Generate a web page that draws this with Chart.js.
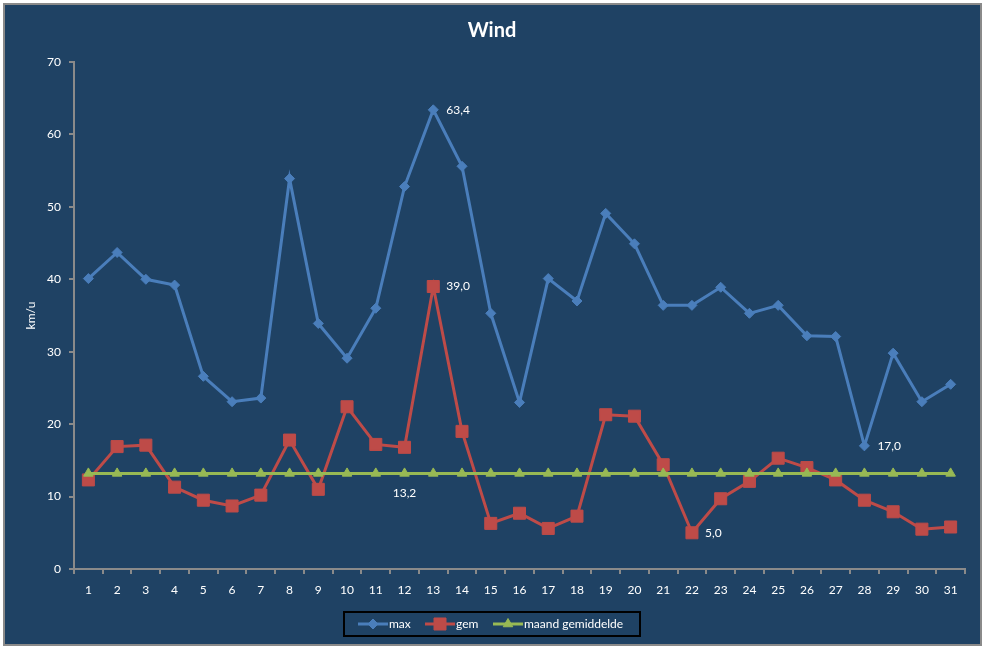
<!DOCTYPE html>
<html>
<head>
<meta charset="utf-8">
<script src="https://cdn.jsdelivr.net/npm/chart.js@4/dist/chart.umd.min.js"></script>
<style>
html,body{margin:0;padding:0;background:#ffffff;}
#wrap{position:absolute;left:0;top:0;width:987px;height:648px;}
</style>
</head>
<body>
<div id="wrap"><canvas id="c" width="987" height="648"></canvas></div>
<script>
const days = ['1','2','3','4','5','6','7','8','9','10','11','12','13','14','15','16','17','18','19','20','21','22','23','24','25','26','27','28','29','30','31'];
const maxValues = [40.1,43.7,40.0,39.2,26.6,23.1,23.6,53.9,33.9,29.1,36.0,52.8,63.4,55.6,35.3,23.0,40.1,37.0,49.1,44.9,36.4,36.4,38.9,35.3,36.4,32.2,32.1,17.0,29.8,23.1,25.5];
const gemValues = [12.3,16.9,17.1,11.3,9.5,8.7,10.2,17.8,11.0,22.4,17.2,16.8,39.0,19.0,6.3,7.7,5.6,7.3,21.3,21.1,14.4,5.0,9.7,12.1,15.3,14.0,12.3,9.5,7.9,5.5,5.8];
const maandValues = [13.2,13.2,13.2,13.2,13.2,13.2,13.2,13.2,13.2,13.2,13.2,13.2,13.2,13.2,13.2,13.2,13.2,13.2,13.2,13.2,13.2,13.2,13.2,13.2,13.2,13.2,13.2,13.2,13.2,13.2,13.2];
const seriesNames = ['max','gem','maand gemiddelde'];
const yTicks = [0,10,20,30,40,50,60,70];
// value labels: [dataset index, point index, placement]
const valueLabels = [[0,12,'right'],[1,12,'right'],[0,27,'right'],[1,21,'right'],[2,11,'below']];

const BG = '#1F4264';
const FONT = 'Lato, "Open Sans", sans-serif';

const decor = {
  id:'decor',
  beforeDraw(chart){
    const ctx = chart.ctx;
    ctx.save();
    ctx.fillStyle = '#ffffff';
    ctx.fillRect(0,0,chart.width,chart.height);
    ctx.fillStyle = BG;
    ctx.fillRect(4,4,977,641);
    ctx.strokeStyle = '#8a8a8a';
    ctx.lineWidth = 2;
    ctx.strokeRect(4,4,977,641);
    ctx.restore();
  },
  afterDatasetsDraw(chart){
    const ctx = chart.ctx;
    ctx.save();
    ctx.fillStyle = '#ffffff';
    ctx.font = '12px ' + FONT;
    valueLabels.forEach(([di,pi,pos])=>{
      const el = chart.getDatasetMeta(di).data[pi];
      const v = chart.data.datasets[di].data[pi];
      const txt = v.toFixed(1).replace('.',',');
      if(pos==='right'){
        ctx.textAlign='left'; ctx.textBaseline='middle';
        ctx.fillText(txt, el.x+13, el.y);
      } else {
        ctx.textAlign='center'; ctx.textBaseline='middle';
        ctx.fillText(txt, el.x, el.y+20);
      }
    });
    ctx.restore();
  },
  afterDraw(chart){
    const ctx = chart.ctx;
    const ca = chart.chartArea;
    ctx.save();
    // title
    ctx.fillStyle = '#ffffff';
    ctx.font = 'bold 20px ' + FONT;
    ctx.textAlign='center'; ctx.textBaseline='middle';
    ctx.fillText('Wind', 492, 31);
    // y axis title
    ctx.font = '12px ' + FONT;
    ctx.translate(31, (ca.top+ca.bottom)/2);
    ctx.rotate(-Math.PI/2);
    ctx.fillText('km/u', 0, 0);
    ctx.restore();
    // legend
    ctx.save();
    ctx.strokeStyle = '#000000';
    ctx.lineWidth = 2;
    ctx.strokeRect(344,612,296,24);
    const items = [[358,389],[425,456],[493,524]];
    ctx.font = '12px ' + FONT;
    ctx.textBaseline='middle'; ctx.textAlign='left';
    chart.data.datasets.forEach((ds,i)=>{
      const [x0,tx] = items[i];
      const cy = 624;
      ctx.strokeStyle = ds.borderColor;
      ctx.lineWidth = 3;
      ctx.beginPath(); ctx.moveTo(x0,cy); ctx.lineTo(x0+30,cy); ctx.stroke();
      ctx.fillStyle = ds.borderColor;
      ctx.lineWidth = 1;
      Chart.helpers.drawPoint(ctx,{pointStyle:ds.pointStyle,radius:ds.pointRadius,borderWidth:1}, x0+15, cy);
      ctx.fillStyle = '#ffffff';
      ctx.fillText(ds.label, tx, cy);
    });
    ctx.restore();
  }
};

new Chart(document.getElementById('c'), {
  type:'line',
  data:{
    labels: days,
    datasets:[
      {label:seriesNames[0], data:maxValues, borderColor:'#4A7EBB', backgroundColor:'#4A7EBB', borderWidth:3, pointStyle:'rectRot', pointRadius:5, pointBorderWidth:1, order:3, tension:0},
      {label:seriesNames[1], data:gemValues, borderColor:'#BE4B48', backgroundColor:'#BE4B48', borderWidth:3, pointStyle:'rect', pointRadius:8.5, pointBorderWidth:1, order:2, tension:0},
      {label:seriesNames[2], data:maandValues, borderColor:'#98B954', backgroundColor:'#98B954', borderWidth:3, pointStyle:'triangle', pointRadius:5.5, pointBorderWidth:1, order:1, tension:0}
    ]
  },
  options:{
    responsive:false,
    animation:false,
    devicePixelRatio:1,
    layout:{padding:{left:0,top:62,right:22,bottom:29}},
    plugins:{legend:{display:false}, title:{display:false}, tooltip:{enabled:false}},
    scales:{
      x:{
        offset:true,
        grid:{display:true, drawOnChartArea:false, drawTicks:true, tickLength:5, color:'#8a8a8a', lineWidth:2, offset:true},
        border:{display:true, color:'#8a8a8a', width:2},
        ticks:{color:'#ffffff', font:{family:FONT, size:12}, padding:9, maxRotation:0, autoSkip:false},
        afterFit(s){ s.height = 50; }
      },
      y:{
        min:0, max:70,
        afterBuildTicks(s){ s.ticks = yTicks.map(v=>({value:v})); },
        grid:{display:true, drawOnChartArea:false, drawTicks:true, tickLength:5, color:'#8a8a8a', lineWidth:2},
        border:{display:true, color:'#8a8a8a', width:2},
        ticks:{color:'#ffffff', font:{family:FONT, size:12}, padding:8},
        afterFit(s){ s.width = 74; }
      }
    }
  },
  plugins:[decor]
});
</script>
</body>
</html>
